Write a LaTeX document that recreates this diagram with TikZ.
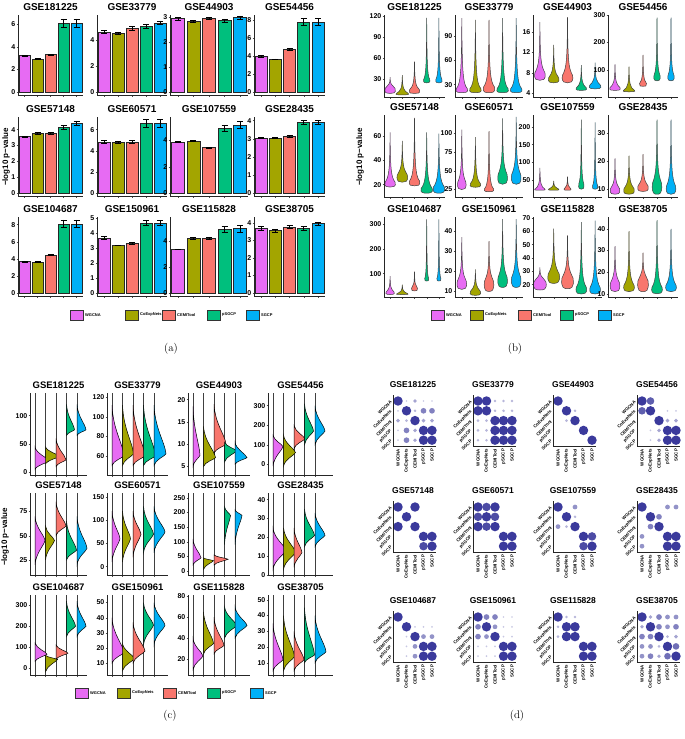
\documentclass[tikz,border=0pt]{standalone}
\usepackage{fontspec}
\newfontfamily\hv{Liberation Sans}
\definecolor{c1}{HTML}{E76BF3}
\definecolor{c2}{HTML}{A3A500}
\definecolor{c3}{HTML}{F8766D}
\definecolor{c4}{HTML}{00BF7D}
\definecolor{c5}{HTML}{00B0F6}
\definecolor{dotc}{HTML}{3B3A9C}
\tikzset{
 ttlA/.style={font=\hv\bfseries\fontsize{10}{11}\selectfont},
 ttlD/.style={font=\hv\bfseries\fontsize{8.5}{9}\selectfont},
 tk/.style={font=\hv\bfseries\fontsize{7}{7}\selectfont,anchor=east,inner sep=1pt},
 axl/.style={line width=0.9pt,draw=black!85},
 lab/.style={font=\hv\bfseries\fontsize{4.4}{5}\selectfont,inner sep=0.5pt},
 ylab/.style={font=\hv\bfseries\fontsize{8}{8}\selectfont,rotate=90},
 plab/.style={font=\fontsize{11}{12}\selectfont},
 legtxt/.style={font=\hv\bfseries\fontsize{4}{5}\selectfont,anchor=west,inner sep=1pt}
}
\newcommand\barpanel[8]{%
 \node[ttlA] at ({(#1+#2)/2},#3-8) {#6};
 \pgfmathsetmacro\w{(#2-#1)/5}
 \foreach \v/\e [count=\i] in {#8}{
  \pgfmathsetmacro\cx{#1+(\i-0.5)*\w}
  \pgfmathsetmacro\yv{#4-\v/#5*(#4-#3)}
  \pgfmathsetmacro\ya{#4-(\v+\e)/#5*(#4-#3)}
  \pgfmathsetmacro\yb{#4-(\v-\e)/#5*(#4-#3)}
  \filldraw[fill=c\i,draw=black!85,line width=0.6pt] (\cx-0.42*\w,#4) rectangle (\cx+0.42*\w,\yv);
  \draw[line width=0.6pt] (\cx,\ya)--(\cx,\yb) (\cx-3,\ya)--(\cx+3,\ya) (\cx-3,\yb)--(\cx+3,\yb);
  \draw[black!70] (\cx,#4+3)--++(0,1.5);
 }
 \foreach \t in {#7}{
  \pgfmathsetmacro\yt{#4-\t/#5*(#4-#3)}
  \draw[black!70] (#1-1.5,\yt)--(#1,\yt);
  \node[tk] at (#1-1.5,\yt) {\t};
 }
 \draw[axl] (#1,#3)|-(#2,#4+3);
}
\newcommand\violpanel[9]{%
 \node[ttlA] at ({(#1+#2)/2},#3-8) {#7};
 \pgfmathsetmacro\w{(#2-#1)/5}
 \foreach \lo/\md/\hi/\hw [count=\i] in {#9}{
  \pgfmathsetmacro\cx{#1+(\i-0.5)*\w}
  \pgfmathsetmacro\yl{#4-(\lo-#5)/(#6-#5)*(#4-#3)}
  \pgfmathsetmacro\ym{#4-(\md-#5)/(#6-#5)*(#4-#3)}
  \pgfmathsetmacro\yh{#4-(\hi-#5)/(#6-#5)*(#4-#3)}
  \pgfmathsetmacro\ca{max(\ym-(\yl-\ym)*0.7-2,\yh+1)}
  \pgfmathsetmacro\cb{\ym-(\ym-\yh)*0.25}
  \filldraw[fill=c\i,draw=black!75,line width=0.5pt] (\cx,\yh) .. controls (\cx-0.3,\cb) and (\cx-0.2*\hw,\ca) .. (\cx-\hw,\ym) .. controls (\cx-1.3*\hw,\yl) and (\cx-0.5*\hw,\yl) .. (\cx,\yl) .. controls (\cx+0.5*\hw,\yl) and (\cx+1.3*\hw,\yl) .. (\cx+\hw,\ym) .. controls (\cx+0.2*\hw,\ca) and (\cx+0.3,\cb) .. (\cx,\yh) -- cycle;
  \draw[black!70] (\cx,#4)--++(0,1.5);
 }
 \foreach \t in {#8}{
  \pgfmathsetmacro\yt{#4-(\t-#5)/(#6-#5)*(#4-#3)}
  \draw[black!70] (#1-1.5,\yt)--(#1,\yt);
  \node[tk] at (#1-1.5,\yt) {\t};
 }
 \draw[axl] (#1,#3)|-(#2,#4);
}
\newcommand\ridgepanel[9]{%
 \node[ttlA,font=\hv\bfseries\fontsize{9.5}{10}\selectfont] at ({(#1+#2)/2},#3-8) {#7};
 \foreach \i in {1,...,5}{
  \draw[black!75,line width=0.6pt] ({#1+5+(\i-1)*10.5},#3)--({#1+5+(\i-1)*10.5},#4);
  \draw[black!70] ({#1+5+(\i-1)*10.5},#4)--++(0,1.5);
 }
 \foreach \lo/\md/\hi/\hh [count=\i] in {#9}{
  \pgfmathsetmacro\cx{#1+5+(\i-1)*10.5}
  \pgfmathsetmacro\yl{#4-(\lo-#5)/(#6-#5)*(#4-#3)}
  \pgfmathsetmacro\ym{#4-(\md-#5)/(#6-#5)*(#4-#3)}
  \pgfmathsetmacro\yh{#4-(\hi-#5)/(#6-#5)*(#4-#3)}
  \filldraw[fill=c\i,draw=black,line width=0.5pt] (\cx,\yl) .. controls (\cx+0.1*\hh,\yl-0.5*\yl+0.5*\ym) and (\cx+0.9*\hh,\ym+0.2*\yl-0.2*\ym) .. (\cx+\hh,\ym) .. controls (\cx+0.9*\hh,\ym-0.25*\ym+0.25*\yh) and (\cx+0.1*\hh,\yh+0.5*\ym-0.5*\yh) .. (\cx,\yh) -- cycle;
 }
 \foreach \t in {#8}{
  \pgfmathsetmacro\yt{#4-(\t-#5)/(#6-#5)*(#4-#3)}
  \draw[black!70] (#1-1.5,\yt)--(#1,\yt);
  \node[tk] at (#1-1.5,\yt) {\t};
 }
 \draw[axl] (#1,#3)|-(#2,#4);
}
\newcommand\dotpanel[4]{%
 \node[ttlD] at (#1+20,#2-16) {#3};
 \foreach \v [count=\i from 0] in {#4}{
  \pgfmathtruncatemacro\r{int(\i/5)}
  \pgfmathtruncatemacro\c{mod(\i,5)}
  \pgfmathtruncatemacro\pct{\v*9+19}
  \ifnum\v>0
   \fill[dotc!\pct!white] (#1+5+\c*8.5,#2+\r*9.8) circle[radius={0.5+\v*0.47}];
  \fi
 }
 \draw[axl,line width=0.7pt] (#1,#2-6)|-(#1+43,#2+4*9.8+6);
 \foreach \n [count=\k from 0] in {WGCNA,CoExpNets,CEMITool,pSGCP,SGCP}{
  \node[lab,rotate=45,anchor=east] at (#1-1.5,#2+\k*9.8) {\n};
  \node[lab,rotate=90,anchor=east] at (#1+5+\k*8.5,#2+4*9.8+8) {\n};
 }
}
\newcommand\leg[2]{%
 \foreach \x/\n [count=\i] in {#2}{
  \filldraw[fill=c\i,draw=black!80,line width=0.6pt] (\x,#1-5) rectangle (\x+13,#1+5);
  \node[legtxt] at (\x+14,#1) {\n};
 }
}
\begin{document}
\begin{tikzpicture}[x=1pt,y=-1pt]
\useasboundingbox (0,0) rectangle (685,739);
% ---------- (a)
\barpanel{18}{83}{15}{92}{6.8}{GSE181225}{0,2,4,6}{3.2/.05,2.9/.05,3.3/.05,6.1/.35,6.1/.35}
\barpanel{97}{167}{15}{92}{5.9}{GSE33779}{0,2,4}{4.6/.12,4.5/.1,4.85/.15,5.05/.15,5.3/.15}
\barpanel{170}{248}{15}{92}{3.1}{GSE44903}{0,1,2,3}{2.95/.05,2.83/.04,2.95/.04,2.88/.06,3.0/.06}
\barpanel{254}{325}{15}{92}{8.6}{GSE54456}{0,2,4,6,8}{4.0/.1,3.65/.05,4.75/.1,7.8/.4,7.8/.4}
\barpanel{18}{83}{117}{193}{4.8}{GSE57148}{0,1,2,3,4}{3.55/.05,3.78/.05,3.78/.05,4.15/.15,4.4/.15}
\barpanel{97}{167}{117}{193}{7.2}{GSE60571}{0,2,4,6}{4.85/.15,4.78/.1,4.85/.15,6.6/.35,6.6/.35}
\barpanel{170}{248}{117}{193}{5.8}{GSE107559}{0,2,4}{3.9/.05,3.97/.05,3.45/.03,4.95/.25,5.2/.25}
\barpanel{254}{325}{117}{193}{4.2}{GSE28435}{0,1,2,3,4}{3.03/.03,3.03/.03,3.15/.05,3.9/.12,3.9/.12}
\barpanel{18}{83}{217}{293}{8.9}{GSE104687}{0,2,4,6,8}{3.7/.05,3.65/.05,4.45/.05,8.1/.45,8.1/.45}
\barpanel{97}{167}{217}{293}{5.1}{GSE150961}{0,1,2,3,4,5}{3.7/.08,3.2/.03,3.35/.05,4.7/.15,4.7/.15}
\barpanel{170}{248}{217}{293}{5.9}{GSE115828}{0,2,4}{3.4/.03,4.25/.08,4.25/.1,4.95/.25,5.0/.25}
\barpanel{254}{325}{217}{293}{4.35}{GSE38705}{0,1,2,3,4}{3.7/.1,3.57/.07,3.78/.08,3.7/.1,3.97/.1}
\node[ylab] (ya) at (6,157) {−log10 p−value};
\leg{315}{70/WGCNA,125/CoExpNets,162/CEMITool,207/pSGCP,246/SGCP}
\node[plab] (la) at (171,349) {(a)};
% ---------- (b)
\violpanel{384}{445}{15}{97}{5}{121}{GSE181225}{30,60,90,120}{10/17/33/5,8/10/36/6,10/15/55/5,25/30/117/3,25/30/117/3}
\violpanel{455}{523}{15}{97}{14.7}{116}{GSE33779}{30,60,90}{20/25/112/5.5,20/25/110/5.5,20/27/110/5.5,20/25/112/5.5,20/25/112/5.5}
\violpanel{533}{602}{15}{97}{3.2}{19.4}{GSE44903}{4,8,12,16}{6.5/8/18/5,6/7/13.5/5,6/7.5/19/5,4.5/5/9.5/5,4.8/5.5/10/5.5}
\violpanel{608}{678}{15}{97}{1}{300}{GSE54456}{100,200,300}{25/35/120/5,20/25/112/5.5,40/50/155/3.5,60/80/290/3,60/80/290/3}
\violpanel{384}{445}{115}{197}{9.8}{77.4}{GSE57148}{20,40,60}{18/22/63/5,22/28/56/5,19/23/75/5,13/17/63/5.5,13/18/62/5.5}
\violpanel{455}{523}{115}{197}{15}{124.5}{GSE60571}{25,50,75,100}{25/35/105/4,28/33/95/5,22/26/103/4.5,32/45/120/4.5,32/45/122/4.5}
\violpanel{533}{602}{115}{197}{3}{233}{GSE107559}{50,100,150,200}{22/25/85/5,22/25/48/5,22/25/60/3.5,25/40/220/2.5,25/35/212/2.5}
\violpanel{608}{678}{115}{197}{7}{36.7}{GSE28435}{10,20,30}{8/10/21/4.5,8/10/22/5,9/11/22.5/5,8/12/35/4.5,8/11/35/4.5}
\violpanel{384}{445}{217}{297}{5}{330}{GSE104687}{100,200,300}{15/25/90/4,15/18/55/5.5,30/40/108/3,70/80/320/2,70/80/320/2}
\violpanel{455}{523}{217}{297}{7.2}{47}{GSE150961}{10,20,30,40}{11/15/37/4.5,8/10/21/5,10/15/35/4.5,12/17/46/4.5,12/17/46/4.5}
\violpanel{533}{602}{217}{297}{10.75}{70.75}{GSE115828}{20,30,40,50,60,70}{16/22/33/6,21/28/62/5.5,17/25/57/5.5,13/18/67/5,13/18/68/5}
\violpanel{608}{678}{217}{297}{8.5}{45.5}{GSE38705}{10,20,30,40}{11/15/32/4.5,11/14/39/5,11/16/29/5,10/13/44/5,11/14/40/5}
\node[ylab] (yb) at (360,157) {−log10 p−value};
\leg{315}{431/WGCNA,470/CoExpNets,518/CEMITool,560/pSGCP,598/SGCP}
\node[plab] (lb) at (515,349) {(b)};
% ---------- (c)
\ridgepanel{30}{87}{393}{475}{-4.7}{140}{GSE181225}{0,50,100}{5/20/45/14,15/28/45/14,10/22/60/10,65/75/120/8,65/75/120/9}
\ridgepanel{107}{168}{393}{475}{40.3}{124.5}{GSE33779}{60,80,100,120}{50/60/112/12,50/62/112/11,50/60/112/12,50/60/112/12,50/62/112/12}
\ridgepanel{188}{250}{393}{475}{3.1}{21.5}{GSE44903}{5,10,15,20}{5/7.5/18.5/7,5/7/14/12,8/10/19/12,6/8.5/10.5/12,5.5/7/10.5/12}
\ridgepanel{268}{333}{393}{475}{-55}{365}{GSE54456}{0,100,200,300}{-10/90/150/10,-10/60/150/12,80/130/200/11,100/170/310/9,100/170/300/10}
\ridgepanel{30}{87}{493}{575}{9.5}{94}{GSE57148}{25,50,75}{20/45/70/10,25/45/60/9,50/60/85/10,25/35/65/10,20/37/70/10}
\ridgepanel{107}{168}{493}{575}{-18}{159}{GSE60571}{0,50,100,150}{10/60/120/8,10/60/120/8,20/70/120/8,30/70/130/10,30/75/130/11}
\ridgepanel{188}{250}{493}{575}{-14}{267}{GSE107559}{0,50,100,150,200,250}{20/45/110/8,5/35/45/10,20/40/55/14,90/190/220/6,90/190/210/7}
\ridgepanel{268}{333}{493}{575}{0}{43.5}{GSE28435}{0,10,20,30,40}{3/13/25/13,3/12/25/12,4/12/25/8,15/21/35/10,15/21/33/10}
\ridgepanel{30}{87}{595}{675}{-35}{350}{GSE104687}{0,100,200,300}{30/65/120/12,-20/40/60/12,40/70/110/12,150/200/320/9,150/200/320/9}
\ridgepanel{107}{168}{595}{675}{2.2}{55}{GSE150961}{10,20,30,40,50}{10/17/40/12,5/13/23/12,10/18/37/12,22/35/50/10,22/35/50/11}
\ridgepanel{188}{250}{595}{675}{5}{81}{GSE115828}{20,40,60,80}{10/23/40/10,25/35/65/10,25/33/60/10,40/52/70/12,40/52/70/12}
\ridgepanel{268}{333}{595}{675}{2.3}{53}{GSE38705}{10,20,30,40,50}{5/12/35/10,5/14/40/11,5/12/30/10,10/15/45/10,10/17/40/11}
\node[ylab] (yc) at (5,537) {−log10 p−value};
\leg{693}{75/WGCNA,117/CoExpNets,163/CEMITool,207/pSGCP,250/SGCP}
\node[plab] (lc) at (170,716) {(c)};
% ---------- (d)
\dotpanel{393}{401}{GSE181225}{9,1,3,1,1, 1,9,2,5,5, 3,2,9,3,3, 1,5,3,9,9, 1,5,3,9,9}
\dotpanel{473}{401}{GSE33779}{9,9,2,2,2, 9,9,2,2,2, 2,2,9,9,9, 2,2,9,9,9, 2,2,9,9,9}
\dotpanel{553}{401}{GSE44903}{9,0,0,0,0, 0,9,2,0,0, 0,2,9,0,0, 0,0,0,9,0, 0,0,0,0,9}
\dotpanel{637}{401}{GSE54456}{9,7,0,0,0, 7,9,0,1,1, 0,0,9,3,3, 0,1,3,9,9, 0,1,3,9,9}
\dotpanel{393}{507}{GSE57148}{9,0,9,0,0, 0,9,0,0,0, 9,0,9,0,0, 0,0,0,9,9, 0,0,0,8,9}
\dotpanel{473}{507}{GSE60571}{9,8,9,0,0, 8,9,8,0,0, 9,8,9,0,0, 0,0,0,9,9, 0,0,0,9,9}
\dotpanel{553}{507}{GSE107559}{9,0,4,0,0, 0,9,2,0,0, 4,2,9,0,0, 0,0,0,9,8, 0,0,0,8,9}
\dotpanel{637}{507}{GSE28435}{9,0,0,4,4, 0,9,5,0,0, 0,5,9,0,0, 4,0,0,9,9, 4,0,0,9,9}
\dotpanel{393}{617}{GSE104687}{9,0,0,0,0, 0,9,1,1,1, 0,1,9,4,4, 0,1,4,9,9, 0,1,4,9,9}
\dotpanel{473}{617}{GSE150961}{9,5,5,1,1, 5,9,4,1,1, 5,4,9,1,1, 1,1,1,9,9, 1,1,1,9,9}
\dotpanel{553}{617}{GSE115828}{9,2,2,0,0, 2,9,9,0,0, 2,9,9,0,0, 0,0,0,9,9, 0,0,0,9,9}
\dotpanel{637}{617}{GSE38705}{9,3,5,4,4, 3,9,5,4,5, 5,5,9,2,3, 4,4,2,9,6, 4,5,3,6,9}
\node[plab] (ld) at (517,716) {(d)};
\end{tikzpicture}
\end{document}
